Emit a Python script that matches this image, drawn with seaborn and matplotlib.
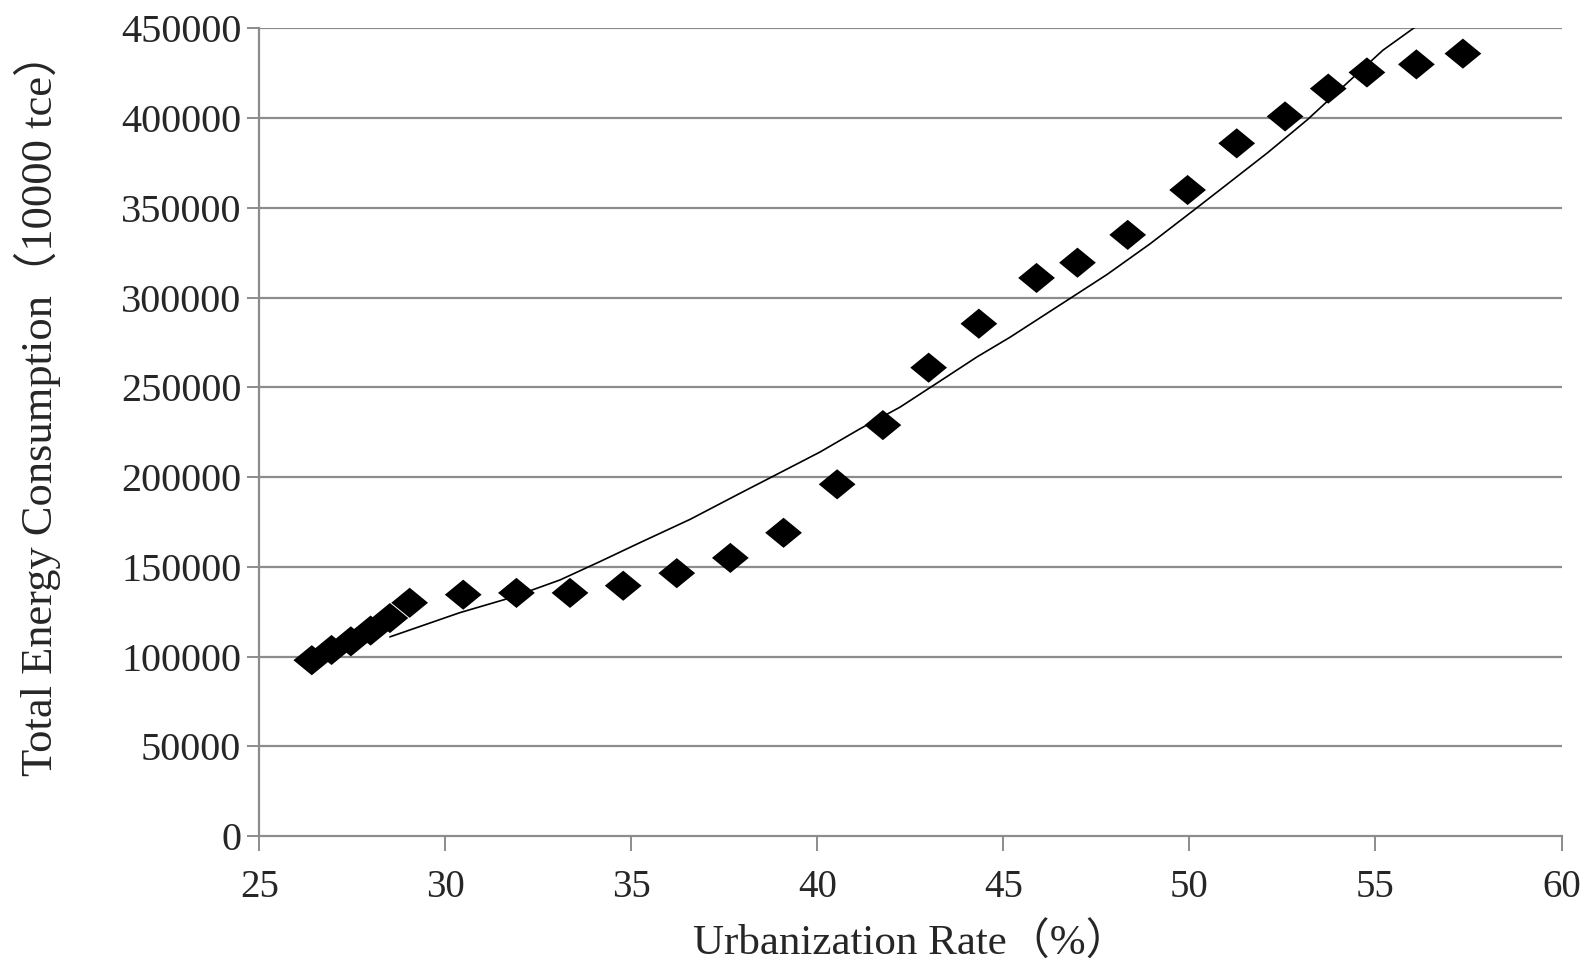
import matplotlib
matplotlib.use("Agg")
import matplotlib.pyplot as plt
import seaborn as sns
import pandas as pd

# ---- data ----
urbanization_rate = [26.41, 26.94, 27.46, 27.99, 28.51, 29.04, 30.48, 31.91, 33.35,
                     34.78, 36.22, 37.66, 39.09, 40.53, 41.76, 42.99, 44.34, 45.89,
                     46.99, 48.34, 49.95, 51.27, 52.57, 53.73, 54.77, 56.10, 57.35]
energy_consumption = [98000, 103700, 108500, 114500, 121500, 130000, 134500, 135500,
                      135500, 139500, 146500, 155000, 169000, 196000, 229000, 261000,
                      285500, 311000, 319500, 335000, 360000, 386000, 401000, 416500,
                      425500, 430000, 436000]

# trend line, points
trend_x = [28.51, 30.39, 31.74, 33.08, 34.16, 35.23, 36.58, 37.92, 38.81, 40.07,
           41.15, 42.22, 43.22, 44.29, 45.18, 46.71, 47.79, 48.94, 50.10, 50.74,
           52.09, 53.16, 54.32, 55.20, 56.06]
trend_y = [111000, 124500, 132700, 142700, 153000, 163500, 176500, 191000, 200500,
           214000, 227000, 239000, 252500, 267000, 278000, 298500, 313000, 330000,
           348500, 358800, 380600, 399000, 421200, 437900, 450700]

x_ticks = [25, 30, 35, 40, 45, 50, 55, 60]
y_ticks = [0, 50000, 100000, 150000, 200000, 250000, 300000, 350000, 400000, 450000]
y_tick_labels = [str(v) for v in y_ticks]

x_label = "Urbanization Rate（%）"
y_label = "Total Energy Consumption（10000 tce）"

# ---- styling ----
sns.set_style("white")
plt.rcParams["font.family"] = ["Liberation Serif", "Noto Sans CJK SC", "DejaVu Sans"]

fig = plt.figure(figsize=(15.95, 9.66), dpi=100)
ax = fig.add_axes([0.1626, 0.1345, 0.8164, 0.836])

points = pd.DataFrame({"x": urbanization_rate, "y": energy_consumption})
trend = pd.DataFrame({"x": trend_x, "y": trend_y})

grid_color = "#8c8c8c"
for v in y_ticks[1:]:
    ax.axhline(v, color=grid_color, lw=1.6, zorder=1)

sns.lineplot(data=trend, x="x", y="y", ax=ax, color="black", lw=1.2,
             sort=False, estimator=None, zorder=3)

diamond = [(-1, 0), (0, 0.82), (1, 0), (0, -0.82), (-1, 0)]
sns.scatterplot(data=points, x="x", y="y", ax=ax, marker=diamond, s=700,
                color="black", edgecolor="none", linewidth=0, zorder=4,
                clip_on=False)

ax.set_xlim(25, 60)
ax.set_ylim(0, 450000)
ax.set_xticks(x_ticks)
ax.set_xticklabels([str(v) for v in x_ticks])
ax.set_yticks(y_ticks)
ax.set_yticklabels(y_tick_labels)

for s in ["top", "right"]:
    ax.spines[s].set_visible(False)
for s in ["left", "bottom"]:
    ax.spines[s].set_color(grid_color)
    ax.spines[s].set_linewidth(1.6)

ax.tick_params(axis="x", direction="out", length=11, width=1.4, color=grid_color,
               labelsize=28, pad=13, bottom=True)
ax.tick_params(axis="y", direction="out", length=9, width=1.4, color=grid_color,
               labelsize=29, pad=4, left=True)

ax.set_xlabel(x_label, fontsize=31)
ax.set_ylabel(y_label, fontsize=32)
ax.yaxis.set_label_coords(-0.152, 0.535)
ax.xaxis.set_label_coords(0.5, -0.108)

fig.savefig("out.png", dpi=100, facecolor="white")
